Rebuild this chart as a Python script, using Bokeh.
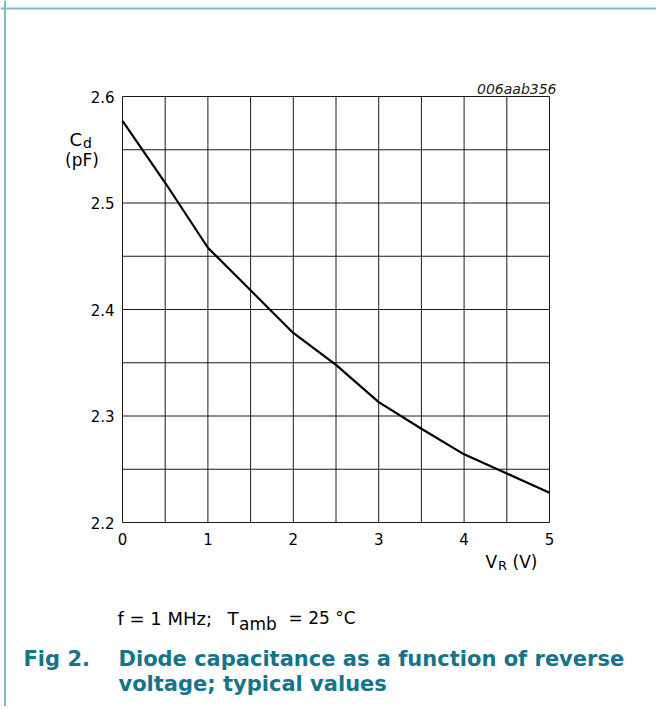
from bokeh.plotting import figure
from bokeh.models import Label, Span
from bokeh.core.properties import value
from bokeh.embed import file_html
from bokeh.resources import INLINE

# ---- data ----
vr = [0.0, 0.5, 1.0, 1.5, 2.0, 2.5, 3.0, 3.5, 4.0, 4.5, 5.0]
cd = [2.577, 2.519, 2.458, 2.418, 2.378, 2.348, 2.313, 2.288, 2.264, 2.246, 2.228]

x_ticks = [0, 1, 2, 3, 4, 5]
y_ticks = [2.2, 2.3, 2.4, 2.5, 2.6]
x_grid = [0, 0.5, 1, 1.5, 2, 2.5, 3, 3.5, 4, 4.5, 5]
y_grid = [2.2, 2.25, 2.3, 2.35, 2.4, 2.45, 2.5, 2.55, 2.6]
x_tick_labels = [str(t) for t in x_ticks]
y_tick_labels = [f"{t:.1f}" for t in y_ticks]

FONT = "DejaVu Sans"
TEAL = "#14748d"
BORDER = "#7fb9c6"
GRID = "#1a1a1a"

# ---- layout: the frame covers the whole canvas; the chart box sits inside ----
W, H = 656, 706
X0, X1 = 0.0, 5.0          # data limits of the chart box
Y0, Y1 = 2.2, 2.6
BOX_L, BOX_R, BOX_T, BOX_B = 122, 549, 96, 522   # chart box in page pixels


def fx(px):
    return X0 + (px - BOX_L) * (X1 - X0) / (BOX_R - BOX_L)


def fy(py):
    return Y1 - (py - BOX_T) * (Y1 - Y0) / (BOX_B - BOX_T)


p = figure(width=W, height=H, x_range=(fx(0), fx(W)), y_range=(fy(H), fy(0)),
           output_backend="svg", toolbar_location=None,
           min_border=0, min_border_left=0, min_border_right=0,
           min_border_top=0, min_border_bottom=0)
p.axis.visible = False
p.grid.visible = False
p.outline_line_color = None
p.background_fill_color = "white"
p.border_fill_color = "white"

# grid of the chart box, drawn through the data scales
p.segment(x0=x_grid, y0=[Y0] * len(x_grid), x1=x_grid, y1=[Y1] * len(x_grid),
          line_color=GRID, line_width=1)
p.segment(x0=[X0] * len(y_grid), y0=y_grid, x1=[X1] * len(y_grid), y1=y_grid,
          line_color=GRID, line_width=1)

# page border (light teal)
p.add_layout(Span(location=fy(8), dimension="width", line_color=BORDER, line_width=2))
p.add_layout(Span(location=fx(4.5), dimension="height", line_color=BORDER, line_width=2))

# curve
p.line(vr, cd, line_color="black", line_width=2.2)

# tick labels
p.text(x=[fx(114)] * len(y_ticks), y=y_ticks, text=y_tick_labels,
       text_font=value(FONT), text_font_size="15px", text_color="black",
       text_align="right", text_baseline="middle")
p.text(x=x_ticks, y=[fy(538)] * len(x_ticks), text=x_tick_labels,
       text_font=value(FONT), text_font_size="15px", text_color="black",
       text_align="center", text_baseline="middle")


def lab(text, px, cy, size, align="left", style="normal", color="black"):
    p.add_layout(Label(x=fx(px), y=fy(cy), text=text, text_font=FONT,
                       text_font_size=f"{size}px", text_font_style=style,
                       text_color=color, text_align=align,
                       text_baseline="middle"))


lab("006aab356", 556, 88, 14, align="right", style="italic", color="#222222")

# y axis label  C_d (pF)
lab("C", 69, 138.5, 18)
lab("d", 82.5, 142.5, 14)
lab("(pF)", 81.5, 159.5, 17, align="center")

# x axis label  V_R (V)
lab("V", 485, 561, 17)
lab("R", 497.5, 565, 13)
lab("(V)", 512, 561.5, 17)

# condition line
lab("f = 1 MHz;", 117, 617.5, 18)
lab("T", 227, 617.5, 18)
lab("amb", 238.5, 623.5, 17)
lab("= 25 \u00b0C", 288, 617.5, 17)

# figure caption
lab("Fig 2.", 23, 658.5, 21, style="bold", color=TEAL)
lab("Diode capacitance as a function of reverse", 118, 658.5, 21, style="bold", color=TEAL)
lab("voltage; typical values", 118, 683.5, 21, style="bold", color=TEAL)

open("out.html", "w").write(file_html(p, INLINE))
